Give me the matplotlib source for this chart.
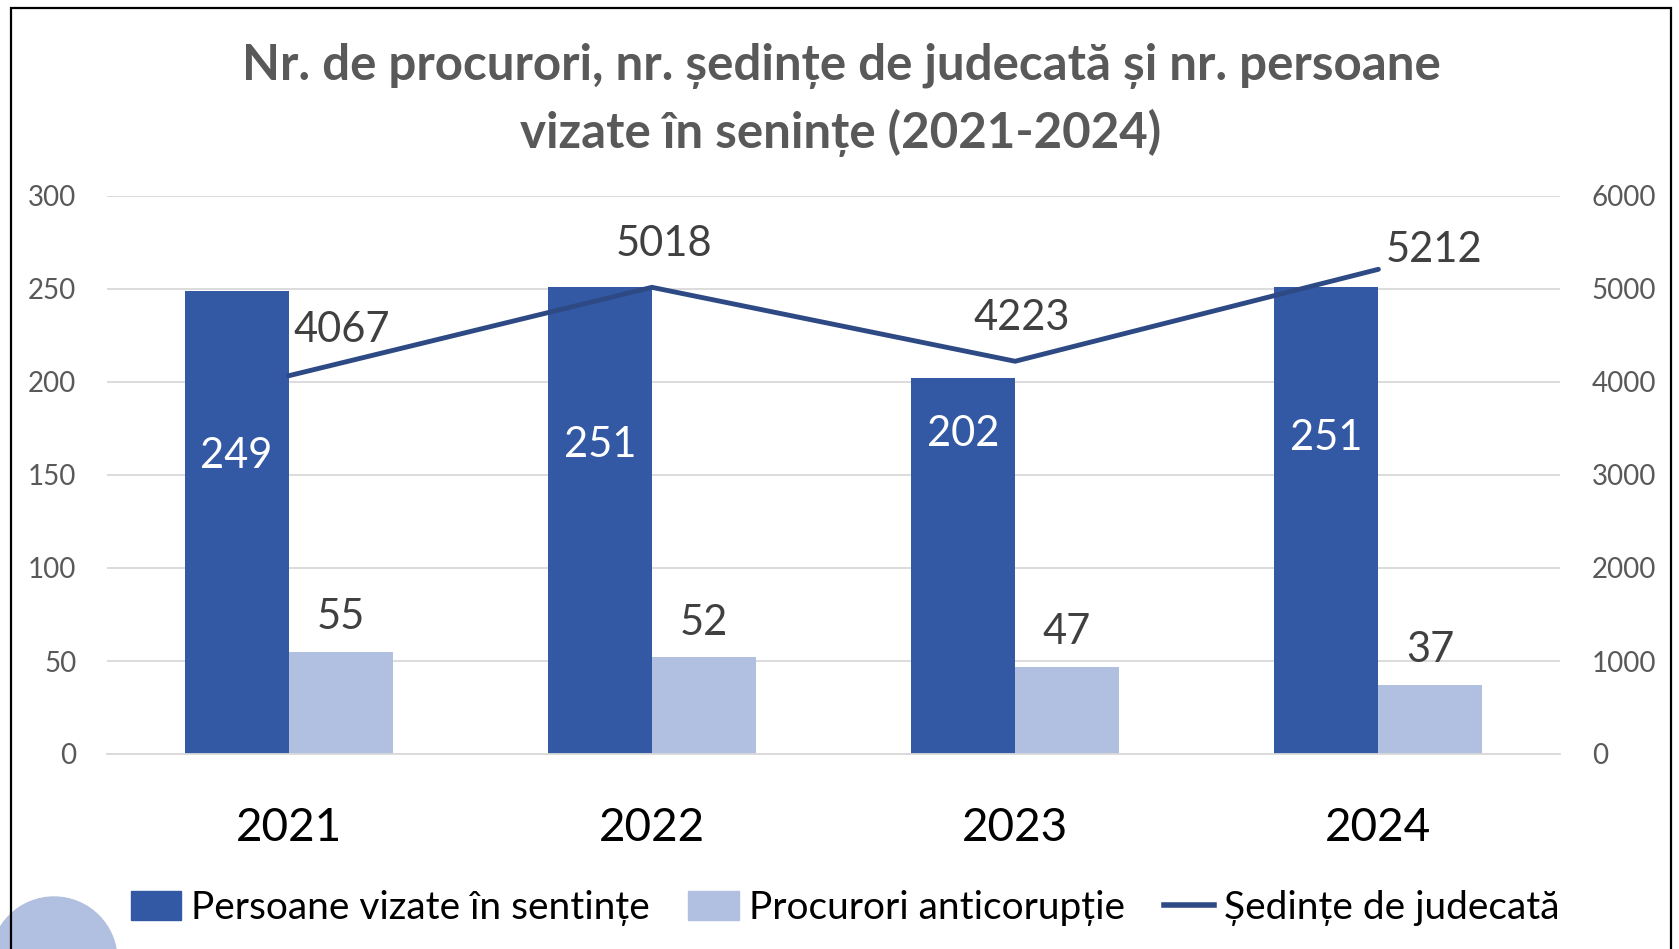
import numpy as np
import matplotlib
matplotlib.use("Agg")
from matplotlib import pyplot as plt
from matplotlib.patches import Rectangle, Ellipse
from matplotlib.lines import Line2D

years = ["2021", "2022", "2023", "2024"]
persoane = [249, 251, 202, 251]
procurori = [55, 52, 47, 37]
sedinte = [4067, 5018, 4223, 5212]

dark_blue = "#3359A5"
light_blue = "#B1BFE0"
line_blue = "#2E4A85"
gray = "#595959"

plt.rcParams["font.family"] = ["Lato", "DejaVu Sans"]

fig = plt.figure(figsize=(16.79, 9.49), dpi=100)
ax = fig.add_axes([107 / 1679, 1 - 754 / 949, 1453 / 1679, 558 / 949])
ax2 = ax.twinx()

x = np.arange(len(years))
w = 0.286
ax.bar(x - w / 2, persoane, w, color=dark_blue, zorder=2)
ax.bar(x + w / 2, procurori, w, color=light_blue, zorder=2)
ax2.plot(x, sedinte, color=line_blue, lw=3.5, solid_capstyle="round", zorder=3)

ax.set_xlim(-0.5, 3.5)
ax.set_ylim(0, 300)
ax2.set_ylim(0, 6000)
ax.set_yticks(range(0, 301, 50))
ax2.set_yticks(range(0, 6001, 1000))
ax.grid(axis="y", color="#D9D9D9", lw=1.3, zorder=0)
ax.set_axisbelow(True)

for a in (ax, ax2):
    for s in a.spines.values():
        s.set_visible(False)
    a.tick_params(length=0, labelsize=20, labelcolor=gray)
ax.tick_params(axis="y", pad=22)
ax2.tick_params(pad=23)
ax.set_xticks(x)
ax.set_xticklabels(years, fontsize=33, color="black")
ax.tick_params(axis="x", pad=38)
ax.spines["bottom"].set_visible(True)
ax.spines["bottom"].set_color("#D9D9D9")
ax.spines["bottom"].set_linewidth(1.3)

# labels inside dark bars (white), heights where they sit
inner_y = [160, 166, 172, 170]
for xi, v, yy in zip(x, persoane, inner_y):
    ax.text(xi - w / 2, yy, str(v), ha="center", va="center",
            color="white", fontsize=30)
# labels above light bars
for xi, v in zip(x, procurori):
    ax.annotate(str(v), (xi + w / 2, v), xytext=(0, 25), textcoords="offset points",
                ha="center", va="center", color="#404040", fontsize=30)
# labels on line
offsets = [(38, 33), (9, 31), (5, 31), (40, 14)]
for xi, v, off in zip(x, sedinte, offsets):
    ax2.annotate(str(v), (xi, v), xytext=off, textcoords="offset points",
                 ha="center", va="center", color="#404040", fontsize=30)

fig.text(841 / 1679, 1 - 100 / 949,
         "Nr. de procurori, nr. ședințe de judecată și nr. persoane\nvizate în senințe (2021-2024)",
         ha="center", va="center", fontsize=35.5, fontweight="bold", color=gray,
         linespacing=1.5)

handles = [
    Rectangle((0, 0), 1, 1, color=dark_blue),
    Rectangle((0, 0), 1, 1, color=light_blue),
    Line2D([0], [0], color=line_blue, lw=4),
]
labels = ["Persoane vizate în sentințe", "Procurori anticorupție", "Ședințe de judecată"]
fig.legend(handles, labels, loc="center", bbox_to_anchor=(845 / 1679, 1 - 908 / 949),
           ncol=3, frameon=False, fontsize=28, handlelength=1.3, handleheight=0.8,
           handletextpad=0.25, columnspacing=1.0)

# outer frame and decorative circle
fig.patches.append(Rectangle((11 / 1679, -0.1), 1660 / 1679, 1.1 - 8 / 949,
                             transform=fig.transFigure, fill=False, ec="black", lw=1.6))
fig.patches.append(Ellipse((54 / 1679, -11 / 949), 126 / 1679, 126 / 949,
                           transform=fig.transFigure, color=light_blue, zorder=0))

fig.savefig("out.png", dpi=100)
